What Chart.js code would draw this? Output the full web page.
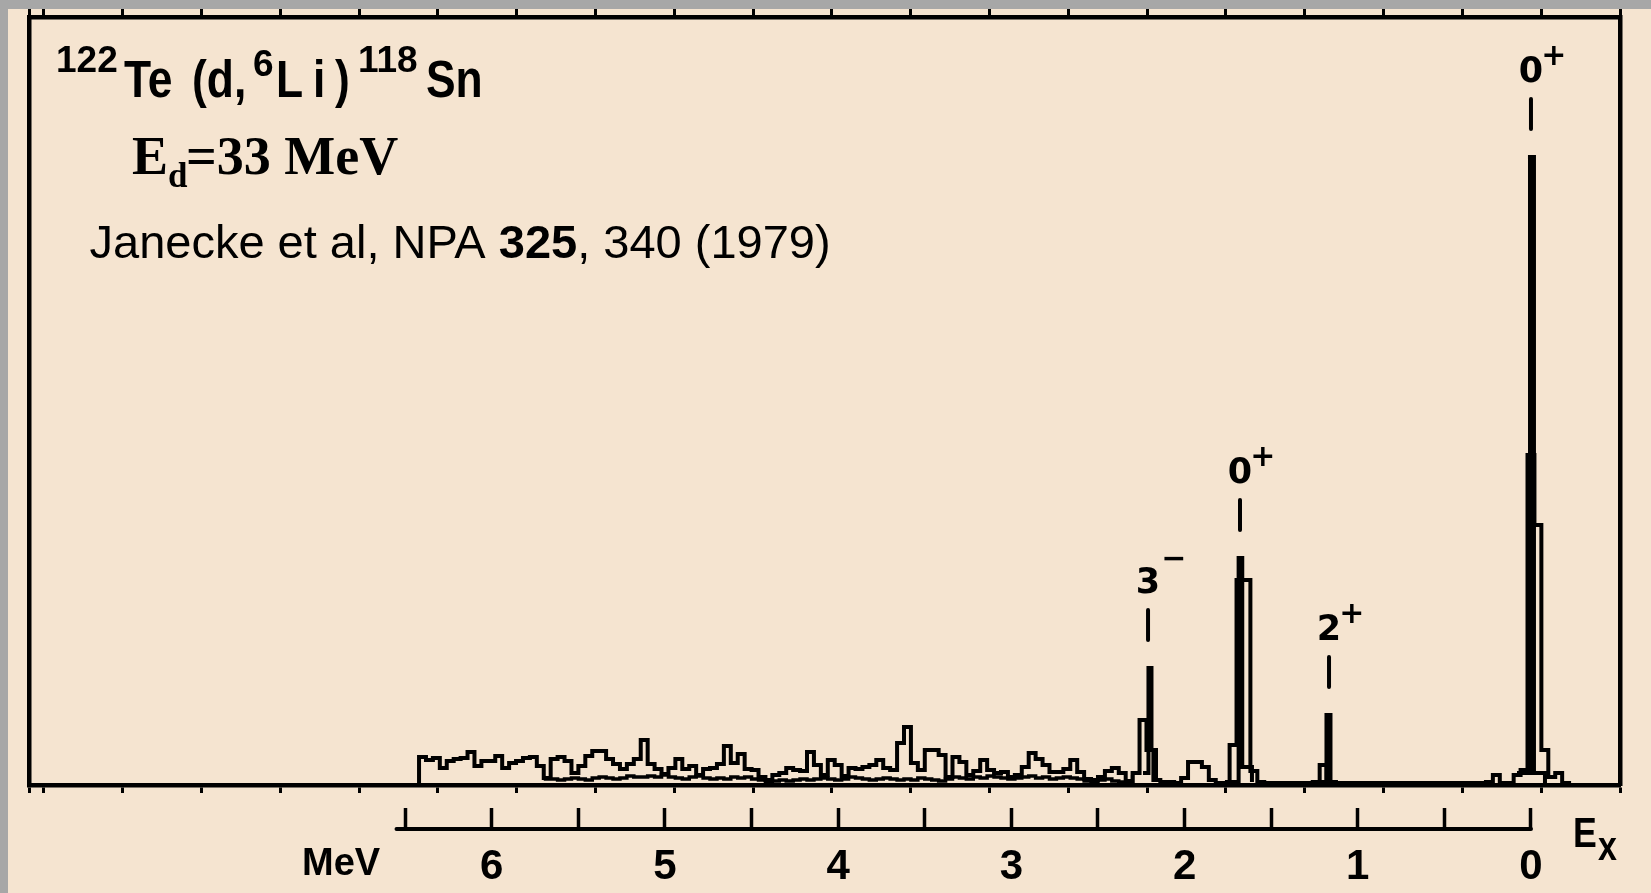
<!DOCTYPE html>
<html>
<head>
<meta charset="utf-8">
<script src="https://cdn.jsdelivr.net/npm/chart.js@4.4.1/dist/chart.umd.min.js"></script>
<style>
  html, body { margin: 0; padding: 0; background: #a7a7a7; overflow: hidden; }
  #wrap { position: relative; width: 1651px; height: 893px; }
  canvas { display: block; }
</style>
</head>
<body>
<div id="wrap"><canvas id="c" width="1651" height="893"></canvas></div>
<script>
// ---------------- data ----------------
// main histogram trace: one count per channel, channels 0.04 MeV wide,
// listed from the high-excitation side (left) to the ground state (right)
const binWidthMeV = 0.04;
const firstBinEdgeMeV = 6.46;
const countsMain = [0,
  28,25,27,17,24,26,27,33,19,24,
  24,29,17,22,24,27,28,19,7,26,
  28,24,12,19,29,34,34,26,21,16,
  21,26,45,21,16,11,17,26,16,19,
  10,16,17,21,39,22,31,16,15,8,
  5,10,12,17,15,14,33,20,10,25,
  20,9,17,16,18,20,25,17,15,42,
  58,22,15,35,35,30,8,28,23,10,
  14,25,15,12,13,8,10,18,32,26,
  20,13,13,16,25,13,6,5,8,14,
  17,12,4,12,65,35,5,3,3,2,
  7,23,23,18,5,2,2,40,205,205,
  14,3,2,2,2,2,2,2,2,3,
  20,3,2,2,2,2,2,2,2,2,
  2,2,2,2,2,2,2,2,2,2,
  2,2,2,2,3,10,2,2,10,15,
  330,260,35,8,12,2,
  0];

// lower outline of the doubled trace in the continuum region
const lowerTraceFirstBin = 19;
const countsLowerTrace = [
  6,6,5,6,7,6,5,7,8,7,
  6,7,9,8,8,9,8,10,8,7,
  6,8,9,7,6,7,6,8,7,8,
  6,5,3,4,5,4,5,6,5,6,
  7,6,5,6,8,7,6,5,6,7,
  6,5,6,5,7,6,5,4,6,8,
  7,6,8,7,9,8,7,6,7,8,
  9,7,8,6,7,8,7,6,4,3,
  5,6,4,3,2,10];

// narrow cores of the four peaks (energy in MeV, counts); null separates peaks
const coreMeV    = [2.240, 2.2085, 2.1911, 2.165, 2.165,
                    1.767, 1.688, 1.667, 1.611, 1.611,
                    1.2298, 1.1807, 1.1576, 1.126, 1.126,
                    0.0808, 0.0058, -0.0173, -0.0808];
const coreCounts = [12, 117, 35, 5, null,
                    3, 227, 18, 3, null,
                    3, 70, 3, 2, null,
                    12, 628, 12, 2];

// level labels
const levelMeV    = [2.211, 1.680, 1.166, 0.0];
const levelSpin   = ['3', '0', '2', '0'];
const levelParity = ['\u2212', '+', '+', '+'];

// axis ticks
const scaleTickMeV = [6.5, 6, 5.5, 5, 4.5, 4, 3.5, 3, 2.5, 2, 1.5, 1, 0.5, 0];
const unitLabel = 'MeV';
const unitLabelMeV = 6.87;
const scaleLineStartMeV = 6.55;
const channelMarkStepMeV = 0.455;
const xMinMeV = -0.514, xMaxMeV = 8.672;
const yMaxCounts = 768;

// ---------------- build points ----------------
const mainPoints = countsMain.map((c, j) => ({ x: firstBinEdgeMeV - j * binWidthMeV, y: c }));
const lowerPoints = countsLowerTrace.map((c, k) => ({ x: firstBinEdgeMeV - (lowerTraceFirstBin + k) * binWidthMeV, y: c }));
const corePoints = coreMeV.map((e, k) => ({ x: e, y: coreCounts[k] }));

const mevTickLength = 21;

function txt(ctx, s, x, y, font, sx) {
  ctx.save();
  ctx.font = font;
  ctx.textAlign = 'left';
  ctx.textBaseline = 'alphabetic';
  ctx.translate(x, y);
  ctx.scale(sx || 1, 1);
  ctx.fillText(s, 0, 0);
  ctx.restore();
}

const paperPlugin = {
  id: 'paper',
  beforeDraw(chart) {
    const ctx = chart.ctx;
    ctx.save();
    ctx.fillStyle = '#a7a7a7';
    ctx.fillRect(0, 0, chart.width, chart.height);
    ctx.fillStyle = '#f5e4d0';
    ctx.fillRect(8, 9, chart.width - 8, chart.height - 9);
    ctx.restore();
  }
};

const annotPlugin = {
  id: 'annot',
  afterDraw(chart) {
    const ctx = chart.ctx;
    const xs = chart.scales.x, ys = chart.scales.y, m = chart.scales.mev;
    ctx.save();
    ctx.fillStyle = '#000';
    ctx.strokeStyle = '#000';

    // energy scale line under the spectrum
    const yLine = m.top + mevTickLength;
    ctx.lineWidth = 4;
    ctx.lineCap = 'round';
    ctx.beginPath();
    ctx.moveTo(m.getPixelForValue(scaleLineStartMeV), yLine);
    ctx.lineTo(m.getPixelForValue(0), yLine);
    ctx.stroke();

    // E_x
    const ex = xs.getPixelForValue(0) + 42;
    txt(ctx, 'E', ex, m.top + 39, 'bold 42px "Liberation Sans"', 0.85);
    txt(ctx, 'x', ex + 25, m.top + 52, 'bold 40px "Liberation Sans"', 0.85);

    // level labels
    const all = mainPoints.concat(corePoints);
    levelMeV.forEach((e, k) => {
      const px = xs.getPixelForValue(e);
      let top = 0;
      all.forEach(p => { if (p.y !== null && Math.abs(p.x - e) < 0.05) top = Math.max(top, p.y); });
      const yPeak = ys.getPixelForValue(top);
      const mb = yPeak - 28, mt = mb - 30;
      ctx.lineWidth = 4;
      ctx.lineCap = 'round';
      ctx.beginPath();
      ctx.moveTo(px, mb);
      ctx.lineTo(px, mt);
      ctx.stroke();
      const base = mt - 17;
      ctx.font = 'bold 35px "DejaVu Sans"';
      ctx.textAlign = 'center';
      ctx.textBaseline = 'alphabetic';
      ctx.fillText(levelSpin[k], px, base);
      const w = ctx.measureText(levelSpin[k]).width;
      ctx.font = 'bold 30px "DejaVu Sans"';
      ctx.textAlign = 'left';
      ctx.textBaseline = 'middle';
      const isPlus = levelParity[k] === '+';
      ctx.fillText(levelParity[k], px + w / 2 + (isPlus ? -2 : 1), base - 26 + (isPlus ? 1 : -7));
    });

    // title block
    const big = 'bold 51px "Liberation Sans"', sup = 'bold 37px "Liberation Sans"';
    txt(ctx, '122', 56, 72, sup);
    txt(ctx, 'Te', 124, 97, big, 0.87);
    txt(ctx, '(d,', 192, 97, big, 0.87);
    txt(ctx, '6', 253, 76, sup);
    txt(ctx, 'L', 276, 97, big, 0.87);
    txt(ctx, 'i', 313, 97, big, 0.87);
    txt(ctx, ')', 335, 97, big, 0.87);
    txt(ctx, '118', 358, 72, sup);
    txt(ctx, 'Sn', 426, 97, big, 0.87);

    txt(ctx, 'E', 132, 174, 'bold 54px "Liberation Serif"');
    txt(ctx, 'd', 168, 187, 'bold 35px "Liberation Serif"');
    txt(ctx, '=33 MeV', 186, 174, 'bold 54px "Liberation Serif"');

    let x0 = 89.5;
    const yb = 258;
    [['Janecke et al, NPA ', '47px "Liberation Sans"'],
     ['325', 'bold 47px "Liberation Sans"'],
     [', 340 (1979)', '47px "Liberation Sans"']].forEach(([s, f]) => {
      ctx.font = f;
      ctx.textAlign = 'left';
      ctx.textBaseline = 'alphabetic';
      ctx.fillText(s, x0, yb);
      x0 += ctx.measureText(s).width;
    });
    ctx.restore();
  }
};

const frameBorder = { display: true, width: 4.5, color: '#000' };

new Chart(document.getElementById('c'), {
  type: 'line',
  data: {
    datasets: [
      { data: mainPoints, xAxisID: 'x', yAxisID: 'y', borderColor: '#000', borderWidth: 4,
        stepped: 'before', pointRadius: 0, fill: false, spanGaps: false },
      { data: lowerPoints, xAxisID: 'x', yAxisID: 'y', borderColor: '#000', borderWidth: 3.5,
        stepped: 'before', pointRadius: 0, fill: false, spanGaps: false },
      { data: corePoints, xAxisID: 'x', yAxisID: 'y', borderColor: '#000', borderWidth: 4,
        stepped: 'before', pointRadius: 0, fill: false, spanGaps: false }
    ]
  },
  options: {
    responsive: false,
    animation: false,
    devicePixelRatio: 1,
    events: [],
    layout: { padding: { left: 29, right: 31, top: 9, bottom: 0 }, autoPadding: false },
    plugins: { legend: { display: false }, tooltip: { enabled: false }, title: { display: false } },
    scales: {
      x: {
        type: 'linear', position: 'bottom', reverse: true, bounds: 'data',
        min: xMinMeV, max: xMaxMeV, weight: 0,
        ticks: { display: false, stepSize: channelMarkStepMeV, includeBounds: false, autoSkip: false },
        grid: { display: true, drawOnChartArea: false, drawTicks: true, tickLength: 8, tickWidth: 3, tickColor: '#000' },
        border: frameBorder,
        afterFit: s => { s.height = 23; }
      },
      mev: {
        axis: 'x', type: 'linear', position: 'bottom', reverse: true, bounds: 'data',
        min: xMinMeV, max: xMaxMeV, weight: 1,
        afterBuildTicks: s => { s.ticks = [unitLabelMeV].concat(scaleTickMeV).map(v => ({ value: v })); },
        ticks: {
          autoSkip: false, maxRotation: 0, minRotation: 0, padding: 13, color: '#000',
          callback: v => (v === unitLabelMeV ? unitLabel : (Number.isInteger(v) ? String(v) : '')),
          font: c => (c.tick && c.tick.value === unitLabelMeV)
            ? { family: '"Liberation Sans"', size: 38, weight: 'bold' }
            : { family: '"Liberation Sans"', size: 42, weight: 'bold' }
        },
        grid: {
          display: true, drawOnChartArea: false, drawTicks: true, tickLength: mevTickLength, tickWidth: 3.5,
          tickColor: c => (c.tick && c.tick.value >= 0 && c.tick.value <= 6.5) ? '#000' : 'rgba(0,0,0,0)'
        },
        border: { display: false },
        afterFit: s => { s.height = 85; }
      },
      xTop: {
        type: 'linear', position: 'top', reverse: true, bounds: 'data',
        min: xMinMeV, max: xMaxMeV,
        ticks: { display: false, stepSize: channelMarkStepMeV, includeBounds: false, autoSkip: false },
        grid: { display: true, drawOnChartArea: false, drawTicks: true, tickLength: 8, tickWidth: 3, tickColor: '#000' },
        border: frameBorder,
        afterFit: s => { s.height = 8; }
      },
      y: {
        type: 'linear', position: 'left', min: 0, max: yMaxCounts, bounds: 'data',
        ticks: { display: false },
        grid: { display: false, drawTicks: false },
        border: frameBorder,
        afterFit: s => { s.width = 0; }
      },
      yRight: {
        type: 'linear', position: 'right', min: 0, max: yMaxCounts, bounds: 'data',
        ticks: { display: false },
        grid: { display: false, drawTicks: false },
        border: frameBorder,
        afterFit: s => { s.width = 0; }
      }
    }
  },
  plugins: [paperPlugin, annotPlugin]
});
</script>
</body>
</html>
